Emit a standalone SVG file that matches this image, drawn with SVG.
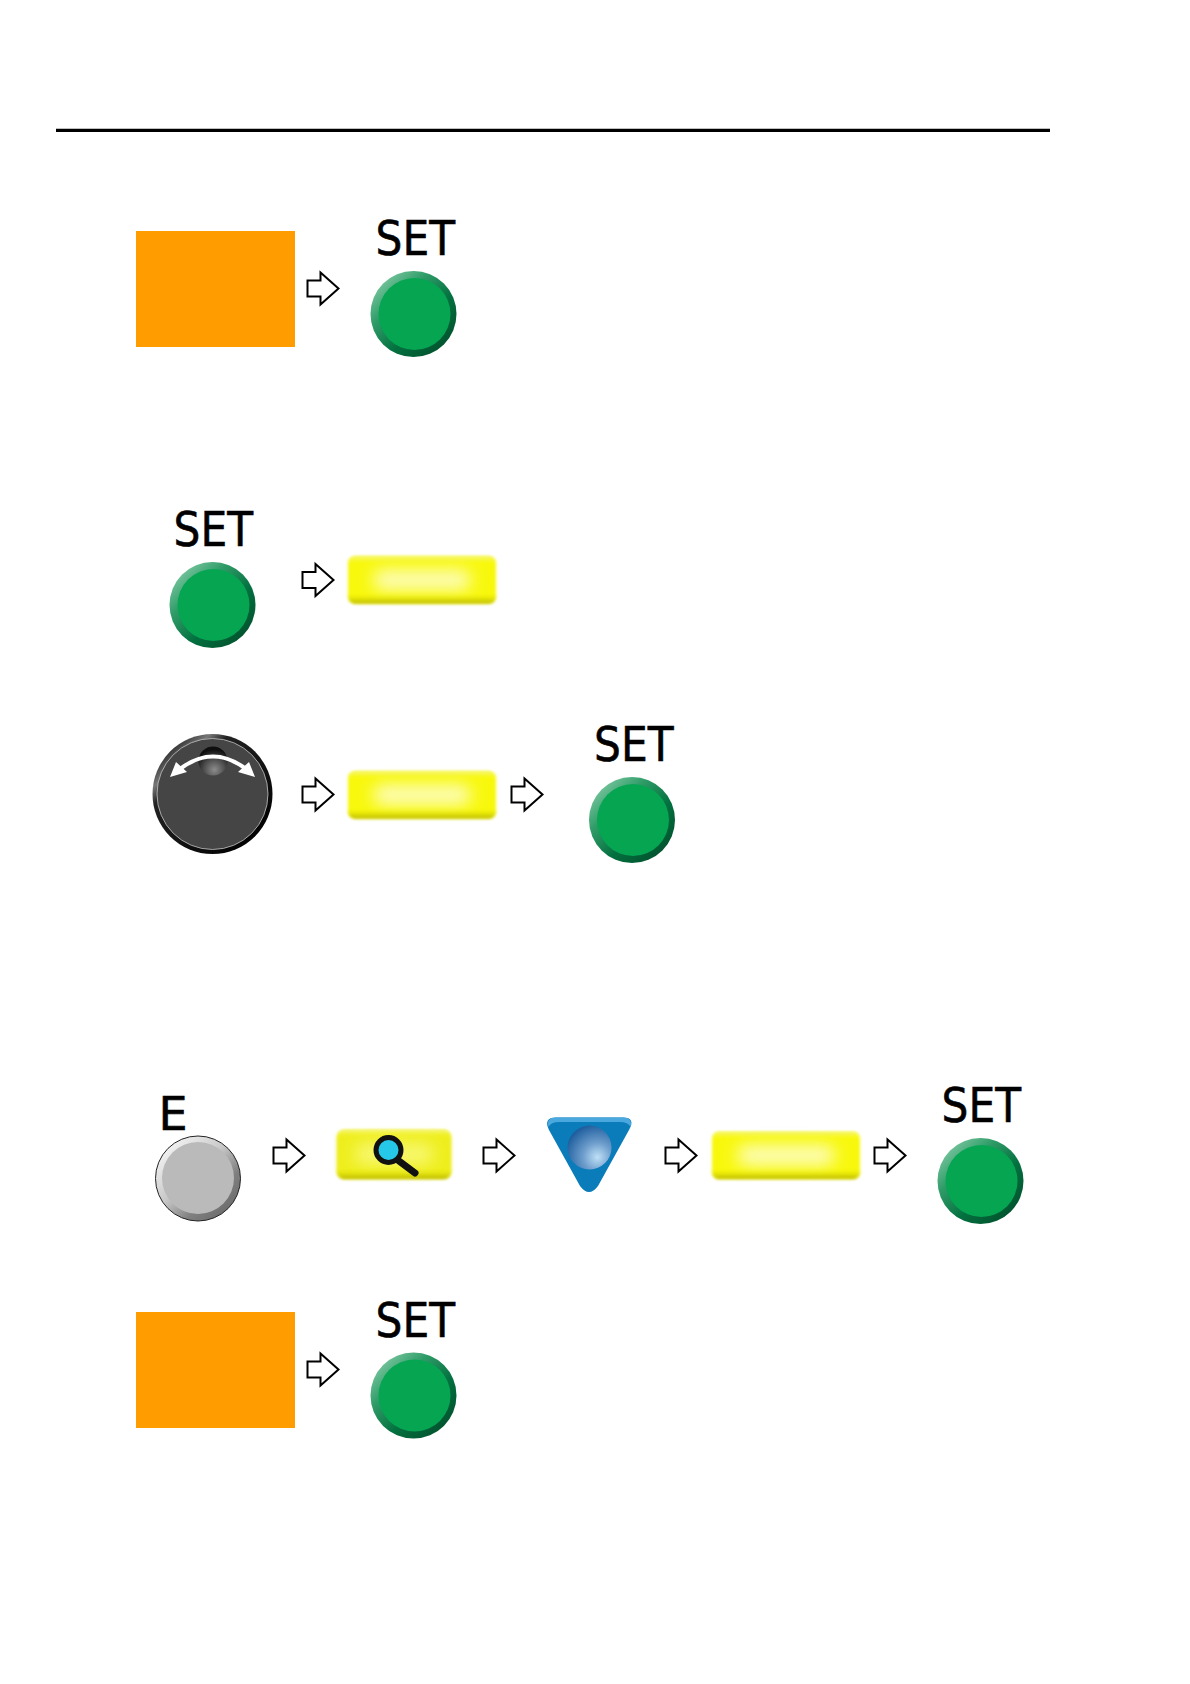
<svg xmlns="http://www.w3.org/2000/svg" width="1190" height="1684" viewBox="0 0 1190 1684">
<style>
.lbl{font-family:"DejaVu Sans",sans-serif;font-size:48px;fill:#000;stroke:#000;stroke-width:.6}
.orange{fill:#ff9c00}
.arrow{fill:#fff;stroke:#000;stroke-width:2;stroke-linejoin:miter}
</style>
<defs>
<linearGradient id="gRim" x1="0.1" y1="0.1" x2="0.85" y2="0.9"><stop offset="0" stop-color="#7cc8a0"/><stop offset=".3" stop-color="#2f9c68"/><stop offset=".65" stop-color="#03703f"/><stop offset="1" stop-color="#02532e"/></linearGradient>
<linearGradient id="eRim" x1="0.1" y1="0.1" x2="0.85" y2="0.9"><stop offset="0" stop-color="#f6f6f6"/><stop offset=".45" stop-color="#c8c8c8"/><stop offset=".75" stop-color="#808080"/><stop offset="1" stop-color="#6c6c6c"/></linearGradient>
<linearGradient id="yEdge" x1="0" y1="0" x2="0" y2="1"><stop offset="0" stop-color="#f4f47a"/><stop offset=".14" stop-color="#f8f830" stop-opacity="0"/><stop offset=".78" stop-color="#f0f010" stop-opacity="0"/><stop offset="1" stop-color="#b8b400"/></linearGradient>
<radialGradient id="dimple" cx=".55" cy=".8" r=".7"><stop offset="0" stop-color="#8c8c8c"/><stop offset=".5" stop-color="#505050"/><stop offset="1" stop-color="#0e0e0e"/></radialGradient>
<radialGradient id="ball" cx=".68" cy=".72" r=".75"><stop offset="0" stop-color="#bfe0f6"/><stop offset=".45" stop-color="#6c9ccb"/><stop offset="1" stop-color="#1f5f9f"/></radialGradient>
<linearGradient id="knobRim" x1="0.15" y1="0.1" x2="0.9" y2="0.9"><stop offset="0" stop-color="#2a2a2a"/><stop offset=".14" stop-color="#777"/><stop offset=".24" stop-color="#222"/><stop offset="1" stop-color="#000"/></linearGradient>
<filter id="soft" x="-10%" y="-20%" width="120%" height="140%"><feGaussianBlur stdDeviation="1.5"/></filter>
<filter id="soft8" x="-40%" y="-100%" width="180%" height="300%"><feGaussianBlur stdDeviation="8"/></filter>
<g id="setBtn"><circle r="43" fill="url(#gRim)"/><circle cx="1" cy="0" r="36" fill="#05a552"/></g>
<g id="yellowBtn">
<rect width="148" height="47" rx="7" fill="#f8f80c" filter="url(#soft)"/>
<rect x="25" y="13" width="98" height="21" rx="10" fill="#fdfdb8" filter="url(#soft8)"/>
<rect width="148" height="47" rx="7" fill="url(#yEdge)" filter="url(#soft)"/>
</g>
<path id="blockArrow" d="M0-8H13V-16L31 0 13 16V8H0Z"/>
</defs>
<g id="header-rule"><line x1="56" y1="130.3" x2="1050" y2="130.3" stroke="#000" stroke-width="3.2"/></g>
<g id="connectors" class="arrow">
<use href="#blockArrow" x="307.5" y="288.5"/>
<use href="#blockArrow" x="302.5" y="580"/>
<use href="#blockArrow" x="302.5" y="794.5"/>
<use href="#blockArrow" x="511.5" y="794.5"/>
<use href="#blockArrow" x="273.5" y="1155.5"/>
<use href="#blockArrow" x="483.5" y="1155.5"/>
<use href="#blockArrow" x="665.5" y="1155.5"/>
<use href="#blockArrow" x="874.5" y="1155.5"/>
<use href="#blockArrow" x="307.5" y="1369.5"/>
</g>
<g id="orange-1"><rect class="orange" x="136" y="231" width="159" height="116"/></g>
<g id="set-1"><text class="lbl" x="375.5" y="255" textLength="79.5" lengthAdjust="spacingAndGlyphs">SET</text><use href="#setBtn" x="413.5" y="314"/></g>
<g id="set-2"><text class="lbl" x="173.5" y="546" textLength="79.5" lengthAdjust="spacingAndGlyphs">SET</text><use href="#setBtn" x="212.5" y="605"/></g>
<g id="yellow-2"><use href="#yellowBtn" x="348" y="556.5"/></g>
<g id="knob">
<circle cx="212.5" cy="794" r="60" fill="url(#knobRim)"/>
<circle cx="212.5" cy="794" r="55.5" fill="#454545" stroke="#c4c4c4" stroke-width=".8"/>
<circle cx="213" cy="761" r="14.5" fill="url(#dimple)"/>
<path d="M180 769Q213 744 246 769" fill="none" stroke="#fff" stroke-width="4"/>
<path d="M170 777L176 762 187 772Z M255 777L249 762 238 772Z" fill="#fff"/>
</g>
<g id="yellow-3"><use href="#yellowBtn" x="348" y="771.5"/></g>
<g id="set-3"><text class="lbl" x="594" y="761" textLength="79.5" lengthAdjust="spacingAndGlyphs">SET</text><use href="#setBtn" x="632" y="820"/></g>
<g id="e-button"><text class="lbl" x="158.5" y="1129.5" style="font-size:46px">E</text>
<circle cx="198" cy="1178.5" r="42.5" fill="url(#eRim)" stroke="#222" stroke-width="1"/><circle cx="198" cy="1178" r="36" fill="#bababa"/></g>
<g id="search-button">
<rect x="336.5" y="1130" width="115" height="49" rx="8" fill="#eeee1c" filter="url(#soft)"/>
<rect x="355" y="1143" width="78" height="22" rx="8" fill="#f8f870" filter="url(#soft8)"/>
<rect x="336.5" y="1130" width="115" height="49" rx="8" fill="url(#yEdge)" filter="url(#soft)"/>
<line x1="399" y1="1161" x2="415" y2="1173" stroke="#111" stroke-width="7" stroke-linecap="round"/>
<circle cx="388.5" cy="1150" r="12.5" fill="#25c8e8" stroke="#111" stroke-width="5"/>
</g>
<g id="triangle-button">
<path d="M556 1117.5H623Q636 1117.5 629 1130L598 1186Q589 1198 580 1186L549 1130Q543 1117.5 556 1117.5Z" fill="#0b7cba"/>
<path d="M548.5 1127Q546 1117.5 556 1117.5H623Q633 1117.5 630.5 1127Q628 1122 620 1122H559Q551 1122 548.5 1127Z" fill="#4aa8de"/>
<circle cx="589.5" cy="1147.5" r="22" fill="url(#ball)"/>
</g>
<g id="yellow-4"><use href="#yellowBtn" x="712" y="1132"/></g>
<g id="set-4"><text class="lbl" x="941.5" y="1122" textLength="79.5" lengthAdjust="spacingAndGlyphs">SET</text><use href="#setBtn" x="980.5" y="1181"/></g>
<g id="orange-2"><rect class="orange" x="136" y="1312" width="159" height="116"/></g>
<g id="set-5"><text class="lbl" x="375.5" y="1336.5" textLength="79.5" lengthAdjust="spacingAndGlyphs">SET</text><use href="#setBtn" x="413.5" y="1395.5"/></g>
</svg>
